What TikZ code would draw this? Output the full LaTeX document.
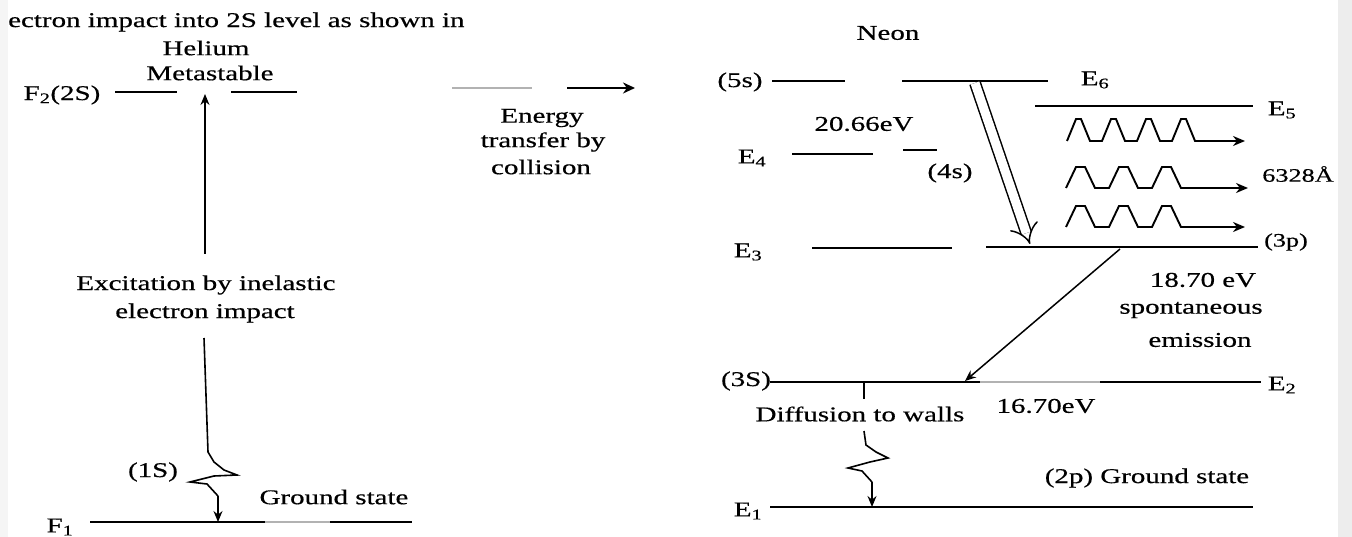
\documentclass[tikz,border=0pt]{standalone}
\usepackage{fontspec}
\setmainfont{Liberation Serif}
\newfontfamily\widef[FakeStretch=1.38,FakeBold=0.5]{Liberation Serif}
\usetikzlibrary{arrows.meta}
\begin{document}
\begin{tikzpicture}[x=1pt,y=-1pt,
  lvl/.style={line width=2.6pt},
  pale/.style={line width=2.2pt, black!30},
  txt/.style={font=\widef\fontsize{21}{26}\selectfont, inner sep=0pt},
  mtxt/.style={font=\widef\fontsize{19}{23}\selectfont, inner sep=0pt},
  arr/.style={line width=1.5pt, -{Stealth[length=11pt,width=9pt]}},
  wave/.style={line width=1.9pt, line join=miter, -{Stealth[length=12pt,width=10pt]}},
  bolt/.style={line width=1.6pt}]
\useasboundingbox (0,0) rectangle (1352,537);
\fill[black!7] (1338,0) rectangle (1352,537);
\fill[black!4] (0,0) rectangle (8,537);

% top text (cut off in the source)
\node[txt, anchor=west] (top) at (8,22) {ectron impact into 2S level as shown in};

% ---------------- Helium ----------------
\node[txt] (helium) at (206,48) {Helium};
\node[txt] (meta) at (210,73) {Metastable};
\coordinate (f2a) at (115,92); \coordinate (f2b) at (177,92);
\coordinate (f2c) at (231,92); \coordinate (f2d) at (297,92);
\draw[lvl] (f2a) -- (f2b);
\draw[lvl] (f2c) -- (f2d);
\node[txt] (lF2) at (62,95) {F\textsubscript{2}(2S)};

\coordinate (exb) at (205,254); \coordinate (ext) at (205,94);
\draw[arr] (exb) -- (ext);
\node[txt] (exc1) at (206,285) {Excitation by inelastic};
\node[txt] (exc2) at (205,313) {electron impact};

\coordinate (g0) at (90,522); \coordinate (g1) at (265,522);
\coordinate (g2) at (330,522); \coordinate (g3) at (412,522);
\draw[lvl] (g0) -- (g1);
\draw[pale] (g1) -- (g2);
\draw[lvl] (g2) -- (g3);
\node[txt] (lF1) at (60,527) {F\textsubscript{1}};
\node[txt] (s1) at (153,472) {(1S)};
\node[txt] (gs) at (334,497) {Ground state};

\coordinate (w0) at (204,338); \coordinate (wb) at (218,496); \coordinate (wg) at (218,522);
\draw[bolt] (w0) -- (208,452) -- (214,462) -- (224,470) -- (237,475) -- (214,476) -- (190,482) -- (207,484) -- (wb);
\draw[arr] (wb) -- (wg);

% ---------------- Energy transfer ----------------
\coordinate (et0) at (452,88); \coordinate (et1) at (532,88);
\coordinate (et2) at (567,88); \coordinate (et3) at (635,88);
\draw[line width=1.2pt, black!30] (et0) -- (et1);
\draw[line width=2.6pt, -{Stealth[length=12pt,width=11pt]}] (et2) -- (et3);
\node[txt] (et1t) at (542,118) {Energy};
\node[txt] (et2t) at (543,142) {transfer by};
\node[txt] (et3t) at (541,167) {collision};

% ---------------- Neon ----------------
\node[txt] (ne) at (888,33) {Neon};

% E6 (5s)
\coordinate (e6a) at (772,81); \coordinate (e6b) at (845,81);
\coordinate (e6c) at (902,81); \coordinate (e6d) at (1048,81);
\draw[lvl] (e6a) -- (e6b);
\draw[lvl] (e6c) -- (e6d);
\node[txt] (l5s) at (740,82) {(5s)};
\node[txt] (lE6) at (1095,80) {E\textsubscript{6}};

% E5
\coordinate (e5a) at (1035,106); \coordinate (e5b) at (1253,106);
\draw[lvl] (e5a) -- (e5b);
\node[txt] (lE5) at (1282,110) {E\textsubscript{5}};
\node[txt] (ev1) at (864,124) {20.66eV};

% E4 (4s)
\coordinate (e4a) at (792,154); \coordinate (e4b) at (873,154);
\coordinate (e4c) at (903,150); \coordinate (e4d) at (937,150);
\draw[lvl] (e4a) -- (e4b);
\draw[lvl] (e4c) -- (e4d);
\node[txt] (lE4) at (752,158) {E\textsubscript{4}};
\node[txt] (l4s) at (950,173) {(4s)};

% E3 (3p)
\coordinate (e3a) at (812,248); \coordinate (e3b) at (952,248);
\coordinate (e3c) at (986,247); \coordinate (e3d) at (1258,247);
\draw[lvl] (e3a) -- (e3b);
\draw[lvl] (e3c) -- (e3d);
\node[txt] (lE3) at (748,252) {E\textsubscript{3}};
\node[mtxt] (l3p) at (1286,242) {(3p)};

% pumping double arrow
\coordinate (ha0) at (975,83); \coordinate (ha1) at (1030,244);
\draw[double, double distance=9pt, line width=1.5pt, -{Implies}] (ha0) -- (ha1);

% photon waves
\coordinate (w1s) at (1067,141); \coordinate (w1e) at (1245,141);
\draw[wave] (w1s) \foreach \i in {1,...,4} { -- ++(9,-22) -- ++(5,0) -- ++(9,22) -- ++(12,0) } -- (w1e);
\coordinate (w2s) at (1066,188); \coordinate (w2e) at (1248,188);
\draw[wave] (w2s) \foreach \i in {1,...,3} { -- ++(10,-21) -- ++(9,0) -- ++(10,21) -- ++(14,0) } -- (w2e);
\coordinate (w3s) at (1066,227); \coordinate (w3e) at (1245,227);
\draw[wave] (w3s) \foreach \i in {1,...,3} { -- ++(10,-21) -- ++(9,0) -- ++(10,21) -- ++(14,0) } -- (w3e);
\node[mtxt] (lam) at (1298,174) {6328Å};

% spontaneous emission
\coordinate (sp0) at (1120,249); \coordinate (sp1) at (965,381);
\draw[arr] (sp0) -- (sp1);
\node[txt] (ev3) at (1203,280) {18.70 eV};
\node[txt] (spx1) at (1191,310) {spontaneous};
\node[txt] (spx2) at (1200,340) {emission};

% E2 (3S)
\coordinate (e2a) at (770,382); \coordinate (e2b) at (980,382);
\coordinate (e2c) at (1100,382); \coordinate (e2d) at (1261,382);
\draw[lvl] (e2a) -- (e2b);
\draw[pale] (e2b) -- (e2c);
\draw[lvl] (e2c) -- (e2d);
\node[txt] (l3S) at (746,381) {(3S)};
\node[txt] (lE2) at (1282,385) {E\textsubscript{2}};
\node[txt] (ev2) at (1046,406) {16.70eV};

% diffusion
\coordinate (d0) at (864,382); \coordinate (d1) at (864,399);
\draw[bolt] (d0) -- (d1);
\node[txt] (dif) at (860,414) {Diffusion to walls};
\coordinate (d2) at (864,431); \coordinate (db) at (872,482); \coordinate (dg) at (872,507);
\draw[bolt] (d2) -- (866,445) -- (876,452) -- (888,458) -- (870,462) -- (848,468) -- (862,471) -- (db);
\draw[arr] (db) -- (dg);

% E1 (2p)
\coordinate (e1a) at (770,507); \coordinate (e1b) at (1253,507);
\draw[lvl] (e1a) -- (e1b);
\node[txt] (lE1) at (748,511) {E\textsubscript{1}};
\node[txt] (l2p) at (1147,478) {(2p) Ground state};
\end{tikzpicture}
\end{document}
